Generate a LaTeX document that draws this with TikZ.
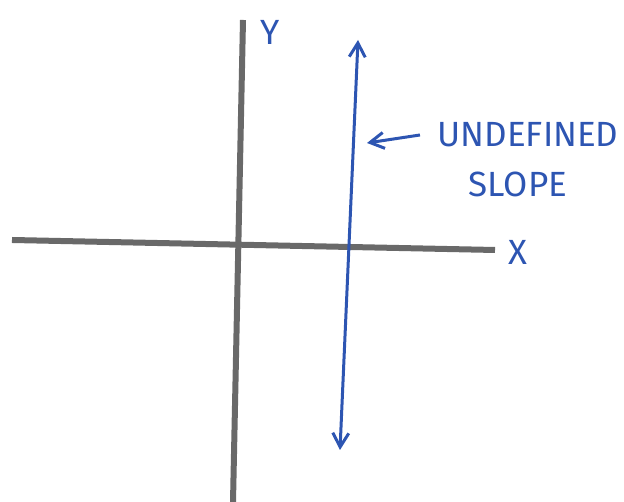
\documentclass[tikz,border=0pt]{standalone}
\usepackage{fontspec}
\setmainfont{Fira Sans}
\usetikzlibrary{arrows.meta}
\definecolor{penblue}{RGB}{45,85,178}
\definecolor{pencil}{RGB}{105,105,105}

\begin{document}
\begin{tikzpicture}[x=1pt,y=1pt,>={Straight Barb[length=14pt,width=16pt]}]
\useasboundingbox (0,0) rectangle (624,502);
\tikzset{lbl/.style={text=penblue,font=\fontsize{35}{40}\selectfont}}
% axes
\coordinate (ytop) at (243,482);
\coordinate (ybot) at (233,0);
\coordinate (xl) at (12,262);
\coordinate (xr) at (495,252);
\draw[pencil,line width=6pt] (ybot)--(ytop);
\draw[pencil,line width=6pt] (xl)--(xr);
\node[lbl] (ylab) at (270,470) {Y};
\node[lbl] (xlab) at (518,250) {X};
% vertical line
\coordinate (vtop) at (358,462);
\coordinate (vbot) at (340,52);
\draw[<->,penblue,line width=3pt] (vbot)--(vtop);
\node[lbl] (undef) at (528,367) {UNDEFINED};
\node[lbl] (slope) at (518,318) {SLOPE};
\coordinate (hit) at (367,359);
\draw[->,penblue,line width=3pt] ([xshift=-14pt]undef.west)--(hit);
\end{tikzpicture}
\end{document}
